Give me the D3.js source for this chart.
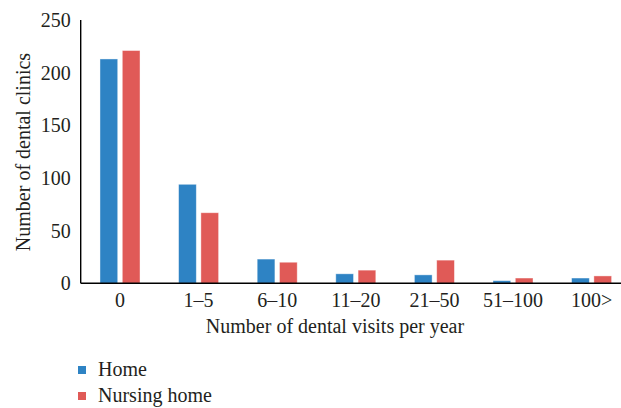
<!DOCTYPE html>
<html><head><meta charset="utf-8">
<script src="https://cdn.jsdelivr.net/npm/d3@7"></script>
<style>body{margin:0;background:#fff}svg{display:block}text{font-family:"Liberation Serif","DejaVu Serif",serif;fill:#231f20}</style>
</head><body><svg id="c" width="621" height="408"></svg>
<script>
const categories = ["0","1–5","6–10","11–20","21–50","51–100","100>"];
const seriesNames = ["Home","Nursing home"];
const homeValues = [213, 94, 23, 9, 8, 2.5, 5];
const nursingValues = [221, 67, 20, 12.5, 22, 5, 7];
const yTicks = [0,50,100,150,200,250];
const colors = ["#2e83c4","#e05a57"];

const svg = d3.select("#c");
const x0 = 80.7, yTop = 20, yBase = 283.3;
const x = d3.scaleBand().domain(categories).range([x0, x0 + 7*78.6]).paddingInner(0).paddingOuter(0);
const xs = d3.scaleBand().domain(seriesNames).range([0, x.bandwidth()]).paddingInner(0.206).paddingOuter(0.865);
const y = d3.scaleLinear().domain([0,250]).range([yBase, yTop]);

const data = categories.map((c,i)=>({c, vals:[homeValues[i], nursingValues[i]]}));
const g = svg.append("g").selectAll("g").data(data).join("g").attr("transform", d=>`translate(${x(d.c)},0)`);
g.selectAll("rect").data(d=>d.vals.map((v,j)=>({v,j}))).join("rect")
  .attr("x", d=>xs(seriesNames[d.j]))
  .attr("width", xs.bandwidth())
  .attr("y", d=>y(d.v))
  .attr("height", d=>y(0)-y(d.v))
  .attr("fill", d=>colors[d.j])
  .attr("stroke","rgba(255,255,255,0.5)").attr("stroke-width",0.8);

// axes
const yAxis = svg.append("g").attr("transform",`translate(${x0},0)`)
  .call(d3.axisLeft(y).tickValues(yTicks).tickSize(0).tickPadding(10));
yAxis.select(".domain").attr("stroke","#000").attr("stroke-width",1.4).attr("d",`M0,${yTop}V${yBase}`);
yAxis.selectAll("text").attr("font-size",20).style("font-family",'"Liberation Serif",serif').attr("fill","#231f20");

const xAxis = svg.append("g").attr("transform",`translate(0,${yBase})`)
  .call(d3.axisBottom(x).tickSize(0).tickPadding(9));
xAxis.select(".domain").attr("stroke","#000").attr("stroke-width",1.4).attr("d",`M${x0},0H621`);
xAxis.selectAll("text").attr("font-size",20).attr("dy","0.72em").style("font-family",'"Liberation Serif",serif').attr("fill","#231f20");

svg.append("text").attr("x",335).attr("y",333).attr("text-anchor","middle").attr("font-size",20).text("Number of dental visits per year");
svg.append("text").attr("transform","translate(30,152) rotate(-90)").attr("text-anchor","middle").attr("font-size",20).text("Number of dental clinics");

const leg = svg.append("g").selectAll("g").data(seriesNames).join("g").attr("transform",(d,i)=>`translate(78,${366+i*26})`);
leg.append("rect").attr("width",8).attr("height",8).attr("fill",(d,i)=>colors[i]);
leg.append("text").attr("x",20).attr("y",9.5).attr("font-size",20).text(d=>d);
</script></body></html>
